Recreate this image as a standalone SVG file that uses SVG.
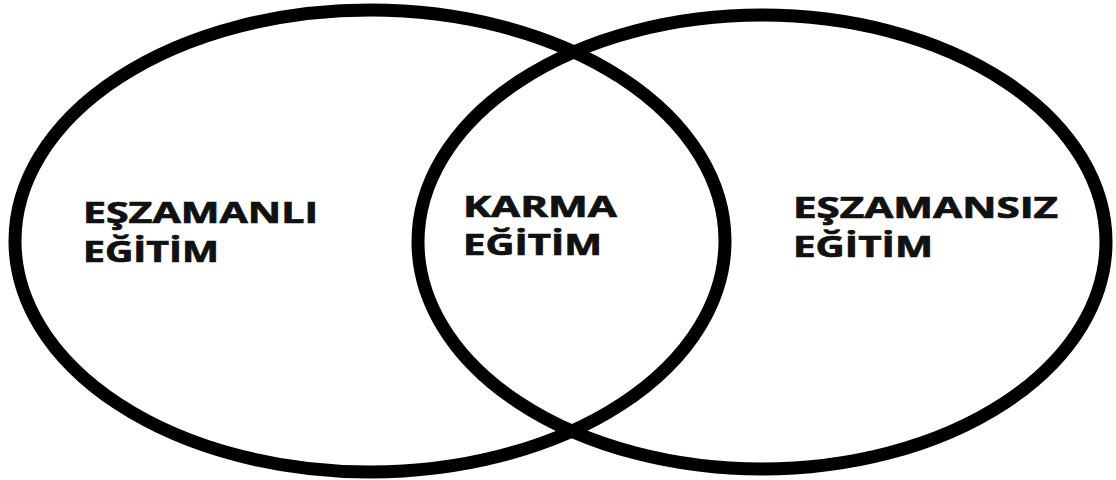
<svg xmlns="http://www.w3.org/2000/svg" width="1116" height="480" viewBox="0 0 1116 480">
<style>
.c{fill:none;stroke:#000;stroke-width:13}
.t{font-family:"Open Sans","Liberation Sans",sans-serif;font-weight:bold;font-size:28px;fill:#111;stroke:#111;stroke-width:0.7}
</style>
<rect width="1116" height="480" fill="#fff"/>
<g id="left">
<ellipse class="c" cx="370" cy="241" rx="355" ry="231"/>
<text class="t" x="83" y="223" textLength="235" lengthAdjust="spacingAndGlyphs">EŞZAMANLI</text>
<text class="t" x="83" y="262" textLength="136" lengthAdjust="spacingAndGlyphs">EĞİTİM</text>
</g>
<g id="right">
<ellipse class="c" cx="762" cy="242" rx="344" ry="227"/>
<text class="t" x="793" y="218" textLength="265" lengthAdjust="spacingAndGlyphs">EŞZAMANSIZ</text>
<text class="t" x="793" y="257" textLength="140" lengthAdjust="spacingAndGlyphs">EĞİTİM</text>
</g>
<g id="center">
<text class="t" x="463" y="217" textLength="154" lengthAdjust="spacingAndGlyphs">KARMA</text>
<text class="t" x="463" y="255" textLength="139" lengthAdjust="spacingAndGlyphs">EĞİTİM</text>
</g>
</svg>
